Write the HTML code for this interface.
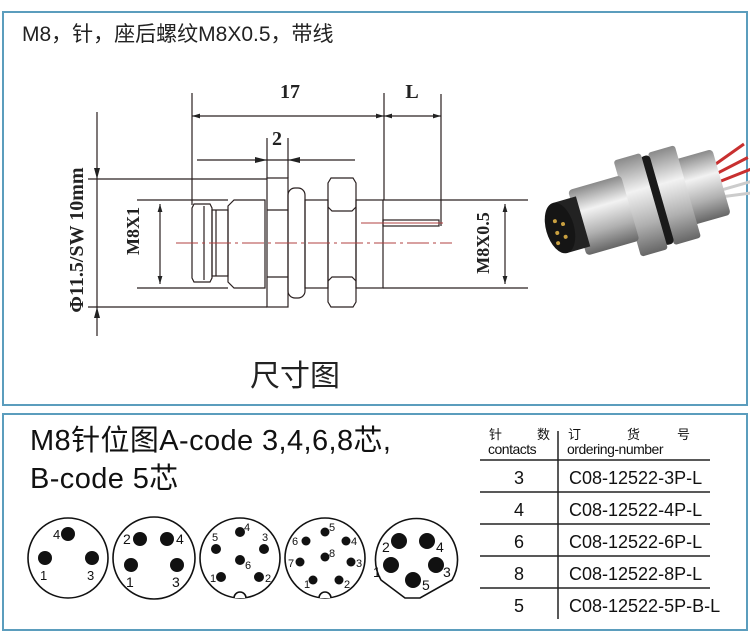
<!DOCTYPE html>
<html><head><meta charset="utf-8"><style>
body{margin:0;width:750px;height:636px;background:#fff;overflow:hidden;font-family:"Liberation Sans","Noto Sans CJK SC",sans-serif}
</style></head><body>
<svg width="750" height="636" viewBox="0 0 750 636" xmlns="http://www.w3.org/2000/svg" font-family="Liberation Sans, Noto Sans CJK SC, sans-serif">
<defs>
<marker id="a" viewBox="0 0 10 6" refX="10" refY="3" markerWidth="10" markerHeight="4" orient="auto-start-reverse"><path d="M0,0 L10,3 L0,6z" fill="#222"/></marker>
<linearGradient id="m" x1="0" y1="0" x2="0" y2="1"><stop offset="0" stop-color="#8a8a8a"/><stop offset=".35" stop-color="#f2f2f2"/><stop offset=".7" stop-color="#b0b0b0"/><stop offset="1" stop-color="#666"/></linearGradient>
</defs>
<rect x="0" y="0" width="750" height="636" fill="#fff"/>
<rect x="3" y="12" width="744" height="393" fill="none" stroke="#5b9dbd" stroke-width="2"/>
<rect x="3" y="414" width="744" height="216" fill="none" stroke="#5b9dbd" stroke-width="2"/>
<text x="22" y="41" font-size="21" fill="#222">M8，针，座后螺纹M8X0.5，带线</text>
<g stroke="#2a2020" stroke-width="1.2" fill="none">
<line x1="192" y1="93" x2="192" y2="205"/><line x1="384" y1="93" x2="384" y2="200"/><line x1="441" y1="94" x2="441" y2="226"/>
<line x1="192" y1="116" x2="384" y2="116" marker-start="url(#a)" marker-end="url(#a)"/>
<line x1="384" y1="116" x2="441" y2="116" marker-start="url(#a)" marker-end="url(#a)"/>
<line x1="267" y1="138" x2="267" y2="178"/><line x1="288" y1="138" x2="288" y2="178"/>
<line x1="197" y1="160" x2="355" y2="160"/>
<line x1="97" y1="112" x2="97" y2="336"/>
<line x1="88" y1="179" x2="267" y2="179"/><line x1="88" y1="307" x2="267" y2="307"/>
<line x1="137" y1="200" x2="228" y2="200"/><line x1="137" y1="288" x2="228" y2="288"/>
<line x1="160" y1="204" x2="160" y2="284" marker-start="url(#a)" marker-end="url(#a)"/>
<line x1="383" y1="200" x2="528" y2="200"/><line x1="383" y1="288" x2="528" y2="288"/>
<line x1="505" y1="204" x2="505" y2="284" marker-start="url(#a)" marker-end="url(#a)"/>
<path d="M194,204 L210,204 L212,208 L212,278 L210,282 L194,282 L192,278 L192,208z"/>
<line x1="204" y1="206" x2="204" y2="280"/>
<rect x="212" y="210" width="16" height="66"/>
<line x1="216" y1="210" x2="216" y2="276"/>
<path d="M228,206 L234,200 L265,200 L265,288 L234,288 L228,282z"/>
<rect x="267" y="178" width="21" height="129"/>
<line x1="267" y1="210" x2="288" y2="210"/><line x1="267" y1="277" x2="288" y2="277"/>
<rect x="288" y="188" width="17" height="110" rx="7"/>
<rect x="305" y="200" width="23" height="88"/>
<path d="M331,178 L353,178 L356,183 L356,302 L353,307 L331,307 L328,302 L328,183z"/>
<path d="M328,207 L332,211 L352,211 L356,207 M328,281 L332,277 L352,277 L356,281"/>
<rect x="356" y="200" width="27" height="88"/>
<rect x="383" y="220" width="56" height="6"/>
</g>
<line x1="176" y1="243" x2="452" y2="243" stroke="#b04040" stroke-width="1" stroke-dasharray="22,4,3,4"/>
<line x1="361" y1="223" x2="443" y2="223" stroke="#b04040" stroke-width="1"/>
<g fill="#222">
<polygon points="97,179 94,168 100,168"/><polygon points="97,307 94,318 100,318"/>
<polygon points="267,160 255,157 255,163"/><polygon points="288,160 300,157 300,163"/>
</g>
<g font-family="Liberation Serif, serif" font-weight="bold" fill="#222">
<text x="290" y="98" font-size="20" text-anchor="middle">17</text>
<text x="412" y="98" font-size="20" text-anchor="middle">L</text>
<text x="277" y="145" font-size="20" text-anchor="middle">2</text>
<text transform="translate(83,240) rotate(-90)" font-size="20" text-anchor="middle">Φ11.5/SW 10mm</text>
<text transform="translate(139,231) rotate(-90)" font-size="18" text-anchor="middle">M8X1</text>
<text transform="translate(489,243) rotate(-90)" font-size="18" text-anchor="middle">M8X0.5</text>
</g>
<g transform="translate(560,228) rotate(-16)">
<path d="M160,-16 L200,-30 M160,-8 L200,-16 M160,0 L200,-4" stroke="#c83030" stroke-width="3"/>
<path d="M160,8 L200,8 M160,14 L200,20" stroke="#ccc" stroke-width="3"/>
<rect x="128" y="-34" width="40" height="68" rx="4" fill="url(#m)"/>
<rect x="105" y="-48" width="28" height="96" rx="3" fill="url(#m)"/>
<rect x="96" y="-46" width="10" height="92" rx="4" fill="#1a1a1a"/>
<rect x="70" y="-50" width="28" height="100" rx="3" fill="url(#m)"/>
<rect x="18" y="-34" width="55" height="68" rx="4" fill="url(#m)"/>
<rect x="0" y="-26" width="24" height="52" fill="#222"/>
<ellipse cx="0" cy="0" rx="14" ry="26" fill="#151515"/>
<g fill="#c9a040"><circle cx="-3" cy="-8" r="2"/><circle cx="4" cy="-3" r="2"/><circle cx="-4" cy="4" r="2"/><circle cx="3" cy="10" r="2"/><circle cx="-6" cy="14" r="2"/></g>
</g>
<text x="295" y="386" font-size="30" text-anchor="middle" fill="#222">尺寸图</text>
<text x="30" y="450" font-size="29" letter-spacing="0.4" fill="#111">M8针位图A-code 3,4,6,8芯,</text>
<text x="30" y="488" font-size="29" letter-spacing="0.4" fill="#111">B-code 5芯</text>
<g stroke="#111" stroke-width="1.6" fill="#fff">
<circle cx="68" cy="558" r="40"/><circle cx="154" cy="558" r="41"/><circle cx="240" cy="558" r="40"/><circle cx="325" cy="558" r="40"/>
<path d="M381,580 A41,41 0 1 1 452,580 L420,598 L405,598z"/>
<path d="M234,598 A6,6 0 0 1 246,598"/><path d="M319,598 A6,6 0 0 1 331,598"/>
</g>
<g fill="#111">
<circle cx="68" cy="534" r="7"/><circle cx="45" cy="558" r="7"/><circle cx="92" cy="558" r="7"/>
<circle cx="140" cy="539" r="7"/><circle cx="167" cy="539" r="7"/><circle cx="131" cy="565" r="7"/><circle cx="177" cy="565" r="7"/>
<circle cx="240" cy="532" r="5"/><circle cx="216" cy="549" r="5"/><circle cx="264" cy="549" r="5"/><circle cx="240" cy="560" r="5"/><circle cx="221" cy="577" r="5"/><circle cx="259" cy="577" r="5"/>
<circle cx="325" cy="532" r="4.5"/><circle cx="306" cy="541" r="4.5"/><circle cx="346" cy="541" r="4.5"/><circle cx="325" cy="557" r="4.5"/><circle cx="300" cy="562" r="4.5"/><circle cx="351" cy="562" r="4.5"/><circle cx="313" cy="580" r="4.5"/><circle cx="339" cy="580" r="4.5"/>
<circle cx="399" cy="541" r="8"/><circle cx="427" cy="541" r="8"/><circle cx="391" cy="565" r="8"/><circle cx="436" cy="565" r="8"/><circle cx="413" cy="580" r="8"/>
</g>
<g font-size="13" fill="#111">
<text x="53" y="539">4</text><text x="40" y="580">1</text><text x="87" y="580">3</text>
<text x="123" y="544" font-size="14">2</text><text x="176" y="544" font-size="14">4</text><text x="126" y="587" font-size="14">1</text><text x="172" y="587" font-size="14">3</text>
<text x="244" y="531" font-size="11">4</text><text x="212" y="541" font-size="11">5</text><text x="262" y="541" font-size="11">3</text><text x="245" y="569" font-size="11">6</text><text x="210" y="582" font-size="11">1</text><text x="265" y="582" font-size="11">2</text>
<text x="329" y="531" font-size="11">5</text><text x="292" y="545" font-size="11">6</text><text x="351" y="545" font-size="11">4</text><text x="329" y="557" font-size="11">8</text><text x="288" y="567" font-size="11">7</text><text x="356" y="567" font-size="11">3</text><text x="304" y="588" font-size="11">1</text><text x="344" y="588" font-size="11">2</text>
<text x="382" y="552" font-size="14">2</text><text x="436" y="552" font-size="14">4</text><text x="373" y="577" font-size="14">1</text><text x="443" y="577" font-size="14">3</text><text x="422" y="590" font-size="14">5</text>
</g>
<g fill="#111">
<text x="489" y="439" font-size="13">针</text><text x="537" y="439" font-size="13">数</text>
<text x="488" y="454" font-size="14" letter-spacing="-0.5">contacts</text>
<text x="568" y="439" font-size="13">订</text><text x="627" y="439" font-size="13">货</text><text x="677" y="439" font-size="13">号</text>
<text x="567" y="454" font-size="14" letter-spacing="-0.5">ordering-number</text>
<g font-size="18"><text x="519" y="484" text-anchor="middle">3</text><text x="519" y="516" text-anchor="middle">4</text><text x="519" y="548" text-anchor="middle">6</text><text x="519" y="580" text-anchor="middle">8</text><text x="519" y="612" text-anchor="middle">5</text>
<text x="569" y="484">C08-12522-3P-L</text><text x="569" y="516">C08-12522-4P-L</text><text x="569" y="548">C08-12522-6P-L</text><text x="569" y="580">C08-12522-8P-L</text><text x="569" y="612">C08-12522-5P-B-L</text></g>
</g>
<g stroke="#222" stroke-width="1.5">
<line x1="558" y1="431" x2="558" y2="619"/>
<line x1="480" y1="460" x2="710" y2="460"/><line x1="480" y1="492" x2="710" y2="492"/><line x1="480" y1="524" x2="710" y2="524"/><line x1="480" y1="556" x2="710" y2="556"/><line x1="480" y1="588" x2="710" y2="588"/>
</g>
</svg>
</body></html>
